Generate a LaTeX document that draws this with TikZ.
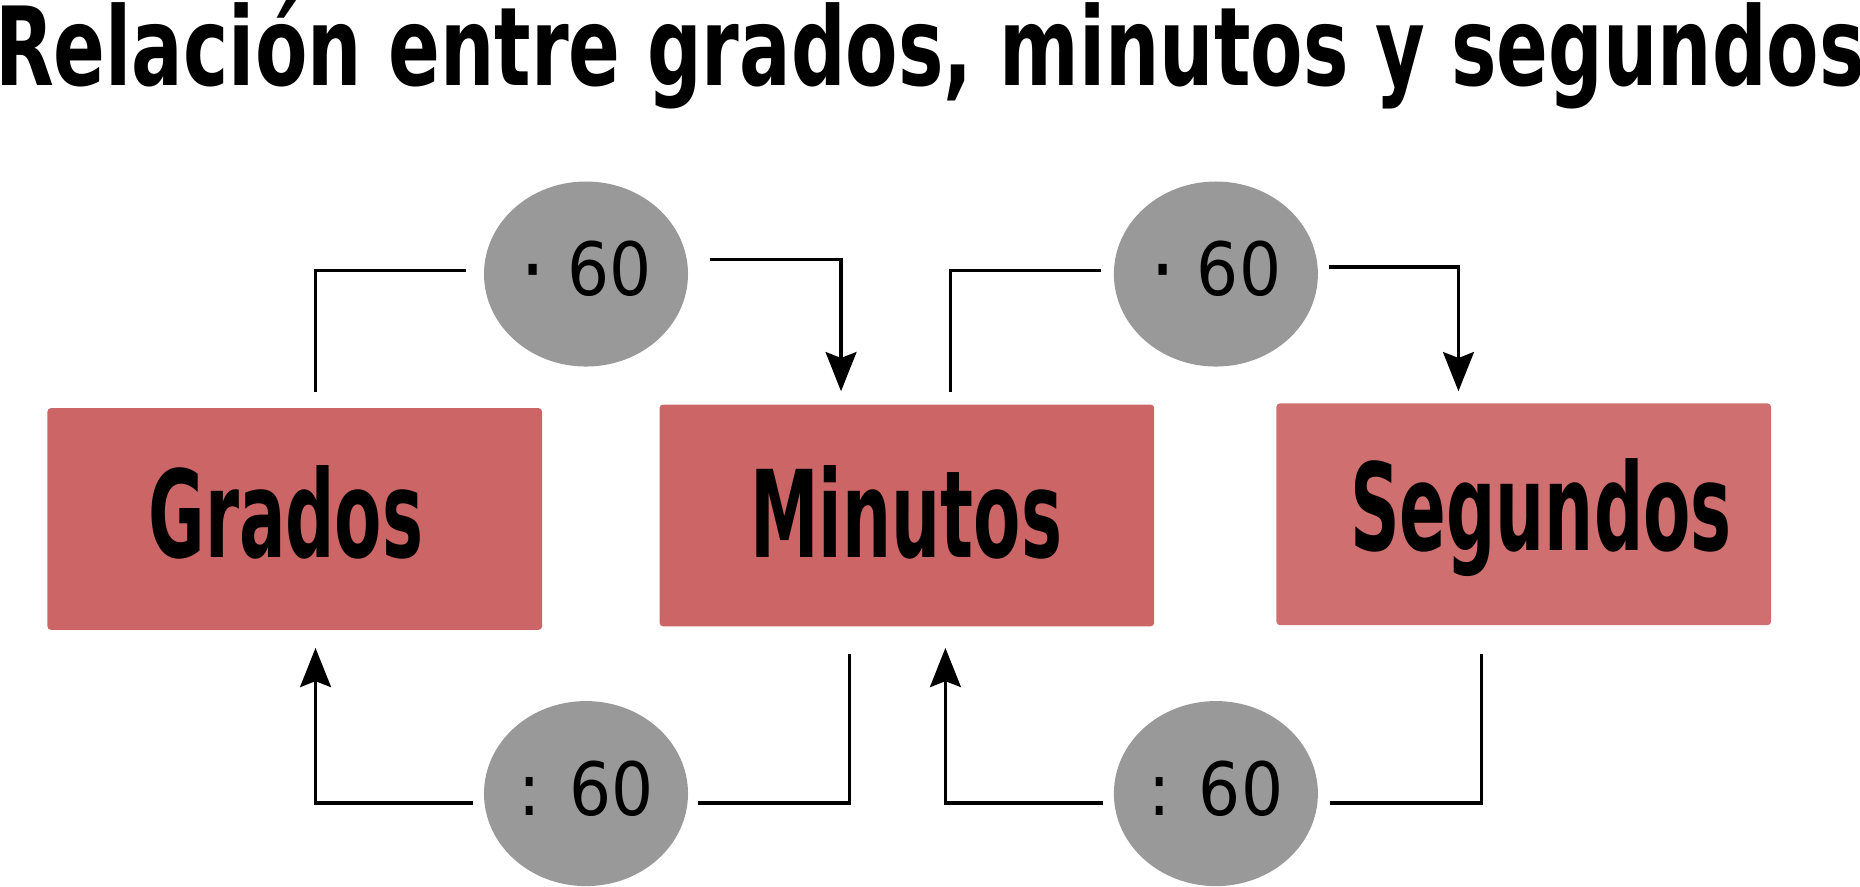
\documentclass[tikz,border=0pt]{standalone}
\usepackage{fontspec}
\setmainfont{DejaVu Sans}
\newfontfamily\titlefont{DejaVu Sans}[FakeStretch=0.70]
\newfontfamily\unitfont{DejaVu Sans}[FakeStretch=0.57]
\newfontfamily\opfont{DejaVu Sans}[FakeStretch=0.90]
\usetikzlibrary{shapes.geometric,arrows.meta}
\definecolor{unitred}{HTML}{CC6666}
\definecolor{unitlight}{HTML}{CF6F6F}
\definecolor{opgray}{HTML}{999999}
\newcommand{\lowdot}{\raisebox{-4pt}{\scalebox{1.2}{·}}}
\begin{document}
\begin{tikzpicture}[
    x=1pt, y=-1pt,
    unitbox/.style={rectangle, fill=unitred, rounded corners=3pt, inner sep=0pt,
        minimum width=417pt, minimum height=187pt},
    unitlabel/.style={anchor=base, inner sep=0pt, font=\unitfont\bfseries\fontsize{102}{110}\selectfont},
    opnode/.style={ellipse, fill=opgray, inner sep=0pt, minimum width=172pt, minimum height=156pt,
        text height=47pt, text depth=10pt, font=\opfont\fontsize{62}{70}\selectfont},
    link/.style={line width=2.8pt},
    arrowlink/.style={link, -{Stealth[length=33pt,width=26pt,inset=5pt]}}
    ]
    \useasboundingbox (0,0) rectangle (1568,747);
    \node [anchor=base, inner sep=0pt, font=\titlefont\bfseries\fontsize{92}{100}\selectfont] (title) at (784,72)
        {Relación entre grados, minutos y segundos};
	% units
	\node [unitbox] (grados) at (248.5,437.5) {};
	\node [unitbox] (minutos) at (764.5,434.5) {};
	\node [unitbox, fill=unitlight] (segundos) at (1284.5,433.5) {};
	\node [unitlabel] (gradosL) at (241,470) {Grados};
	\node [unitlabel] (minutosL) at (764,470) {Minutos};
	\node [unitlabel] (segundosL) at (1299,464) {Segundos};
	% operations
	\node [opnode] (mulA) at (494,231) {\lowdot{} 60};
	\node [opnode] (mulB) at (1025,231) {\lowdot{} 60};
	\node [opnode] (divA) at (494,669) {: 60};
	\node [opnode] (divB) at (1025,669) {: 60};
	% top: multiply
	\draw [link] ([xshift=17.5pt,yshift=13pt]grados.north) |- ([xshift=-15pt,yshift=3pt]mulA.west);
	\draw [arrowlink] ([xshift=18pt,yshift=12pt]mulA.east) -| ([xshift=-55.5pt,yshift=11pt]minutos.north);
	\draw [link] ([xshift=36.5pt,yshift=10pt]minutos.north) |- ([xshift=-11pt,yshift=3pt]mulB.west);
	\draw [arrowlink] ([xshift=9pt,yshift=6pt]mulB.east) -| ([xshift=-55pt,yshift=10pt]segundos.north);
	% bottom: divide
	\draw [link] ([xshift=-48.5pt,yshift=-23pt]minutos.south) |- ([xshift=8pt,yshift=-8pt]divA.east);
	\draw [arrowlink] ([xshift=-9pt,yshift=-8pt]divA.west) -| ([xshift=17.5pt,yshift=-15pt]grados.south);
	\draw [link] ([xshift=-35.5pt,yshift=-24pt]segundos.south) |- ([xshift=10pt,yshift=-8pt]divB.east);
	\draw [arrowlink] ([xshift=-9pt,yshift=-8pt]divB.west) -| ([xshift=32.5pt,yshift=-18pt]minutos.south);
\end{tikzpicture}
\end{document}
